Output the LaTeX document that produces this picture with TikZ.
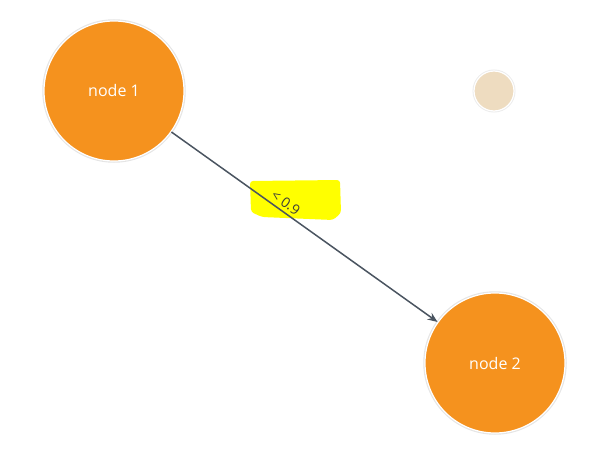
\documentclass[tikz,border=0pt]{standalone}
\usepackage{fontspec}
\setmainfont{Open Sans}
\definecolor{NodeOrange}{RGB}{245,146,30}
\definecolor{NodeBeige}{RGB}{238,220,192}
\definecolor{EdgeGray}{RGB}{74,84,96}
\definecolor{LabelGray}{RGB}{60,60,60}
\definecolor{MarkYellow}{RGB}{255,255,0}
\usetikzlibrary{positioning, arrows.meta, backgrounds}
\tikzset{
  graphnode/.style={circle, fill=NodeOrange, draw=white, line width=1.2pt,
    preaction={draw=black!10, line width=3.5pt},
    minimum size=140pt, inner sep=0pt, text=white,
    font=\fontsize{16}{19}\selectfont},
  ghostnode/.style={circle, fill=NodeBeige, draw=white, line width=1.2pt,
    preaction={draw=black!8, line width=3pt},
    minimum size=40pt, inner sep=0pt},
  linkedge/.style={draw=EdgeGray, line width=1.5pt,
    -{Stealth[length=10pt, width=8pt]}},
  linklabel/.style={sloped, above, text=LabelGray, inner sep=3pt,
    font=\fontsize{14}{16}\selectfont}
}
\begin{document}
\begin{tikzpicture}[x=1pt, y=-1pt]
\useasboundingbox (0,0) rectangle (594,468);

% Nodes
\node[graphnode] (n1) at (114,91) {node 1};
\node[graphnode] (n2) at (495,363) {node 2};
\node[ghostnode] (n3) at (494,91) {};

% Highlight mark behind the label
\begin{scope}[on background layer]
\fill[MarkYellow, rounded corners=3pt] (250,181) -- (340,180) -- (341,213)
  -- (333,220) -- (262,217) -- (251,212) -- cycle;
\end{scope}

% Edge
\draw[linkedge] (n1) -- node[linklabel, pos=0.41] {\textless\ 0.9} (n2);
\end{tikzpicture}
\end{document}
